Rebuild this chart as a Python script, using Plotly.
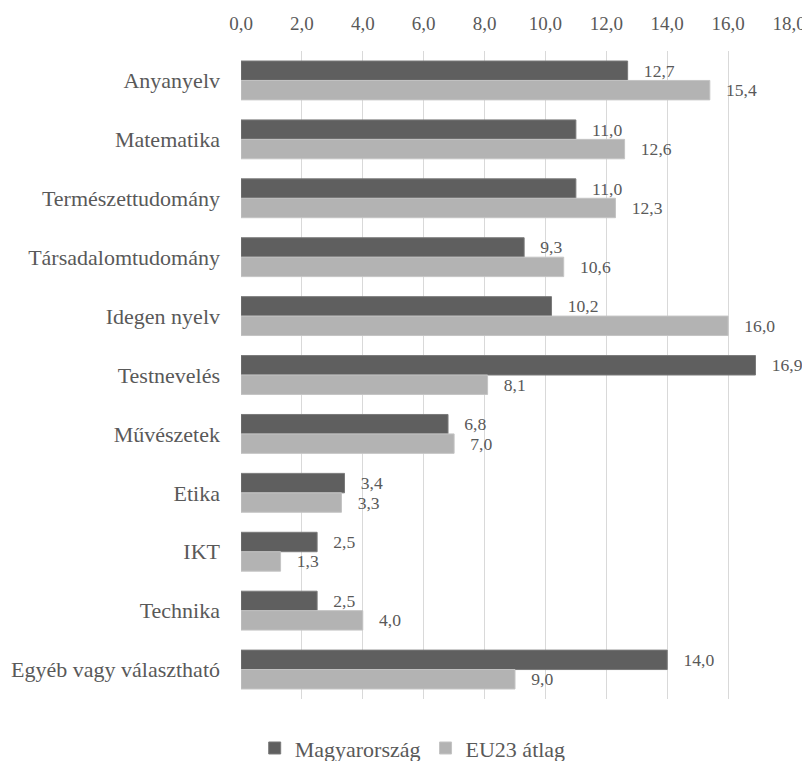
import plotly.graph_objects as go

categories = ["Anyanyelv", "Matematika", "Természettudomány", "Társadalomtudomány",
              "Idegen nyelv", "Testnevelés", "Művészetek", "Etika", "IKT",
              "Technika", "Egyéb vagy választható"]
hu_values = [12.7, 11.0, 11.0, 9.3, 10.2, 16.9, 6.8, 3.4, 2.5, 2.5, 14.0]
eu_values = [15.4, 12.6, 12.3, 10.6, 16.0, 8.1, 7.0, 3.3, 1.3, 4.0, 9.0]
x_ticks = [0, 2, 4, 6, 8, 10, 12, 14, 16, 18]
x_tick_labels = ["0,0", "2,0", "4,0", "6,0", "8,0", "10,0", "12,0", "14,0", "16,0", "18,0"]

FONT = "'Liberation Serif', 'DejaVu Serif', serif"
TXT = "#595959"

def fmt(v):
    return "   " + f"{v:.1f}".replace(".", ",")

fig = go.Figure()
fig.add_trace(go.Bar(
    y=categories, x=hu_values, orientation="h", name="Magyarország",
    marker=dict(color="#5f5f5f", line=dict(color="#7a7a7a", width=1)),
    text=[fmt(v) for v in hu_values], textposition="outside",
    textfont=dict(family=FONT, size=19, color=TXT), cliponaxis=False,
))
fig.add_trace(go.Bar(
    y=categories, x=eu_values, orientation="h", name="EU23 átlag",
    marker=dict(color="#b3b3b3", line=dict(color="#c4c4c4", width=1)),
    text=[fmt(v) for v in eu_values], textposition="outside",
    textfont=dict(family=FONT, size=19, color=TXT), cliponaxis=False,
))

fig.update_layout(
    width=802, height=753,
    margin=dict(l=233, r=21, t=43, b=62),
    paper_bgcolor="white", plot_bgcolor="white",
    barmode="group", bargap=0.34, bargroupgap=0,
    font=dict(family=FONT, color=TXT),
    showlegend=True,
    legend=dict(orientation="h", x=0.025, xanchor="left",
                yref="container", y=0.017, yanchor="middle",
                font=dict(family=FONT, size=22, color=TXT),
                itemwidth=30, traceorder="normal"),
    xaxis=dict(side="top", range=[0, 18], tickvals=x_ticks, ticktext=x_tick_labels,
               showgrid=True, gridcolor="#d9d9d9", gridwidth=1,
               zeroline=False, showline=False, ticks="", automargin=False,
               ticklabelstandoff=16,
               tickfont=dict(family=FONT, size=19, color=TXT)),
    yaxis=dict(autorange="reversed", showgrid=False, zeroline=False, showline=False,
               ticks="", ticklabelstandoff=20, automargin=False,
               tickfont=dict(family=FONT, size=22, color=TXT)),
)

fig.write_html("out.html")
